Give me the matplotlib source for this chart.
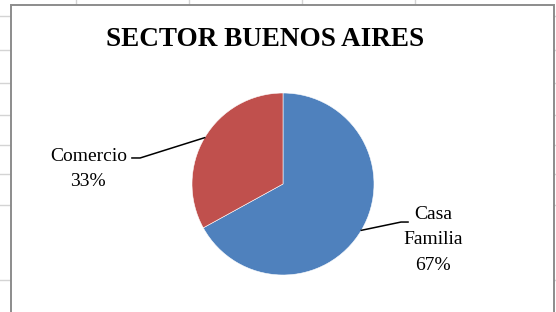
import numpy as np
import matplotlib.pyplot as plt
from matplotlib.lines import Line2D
from matplotlib.patches import Rectangle

labels = ['Casa\nFamilia', 'Comercio']
values = [67, 33]
colors = ['#4F81BD', '#C0504D']
title = 'SECTOR BUENOS AIRES'

W, H = 556, 312
fig = plt.figure(figsize=(W / 100, H / 100), dpi=100)
fig.patch.set_facecolor('white')


def fx(px):
    return px / W


def fy(py):
    return 1 - py / H


# spreadsheet grid around the chart
grid_c = '#d4d4d4'
for x in [76, 189, 302, 415]:
    fig.add_artist(Line2D([fx(x), fx(x)], [fy(0), fy(5)], color=grid_c, lw=1, zorder=-2))
for y in [16, 50, 83, 115, 145, 174, 205, 280]:
    fig.add_artist(Line2D([0, fx(10)], [fy(y), fy(y)], color=grid_c, lw=1, zorder=-2))
    fig.add_artist(Line2D([fx(554), 1], [fy(y), fy(y)], color=grid_c, lw=1, zorder=-2))

# chart area border
fig.add_artist(Rectangle((fx(10.5), -0.1), fx(554) - fx(10.5), fy(5) + 0.1,
                         facecolor='white', edgecolor='#8c8c8c', lw=1.4,
                         transform=fig.transFigure, zorder=-1))

fig.text(fx(265), fy(46), title, ha='center', va='baseline',
         fontsize=19.5, fontweight='bold', family='Liberation Serif')

r_px = 91
cx, cy = 283, 184
ax = fig.add_axes([fx(cx - r_px), fy(cy + r_px), (2 * r_px) / W, (2 * r_px) / H])
ax.patch.set_visible(False)
wedges, _ = ax.pie(values, colors=colors, startangle=90, counterclock=False,
                   radius=1, wedgeprops=dict(edgecolor='white', linewidth=0.4))
ax.set_xlim(-1, 1)
ax.set_ylim(-1, 1)
ax.set_aspect('equal')
ax.axis('off')

total = sum(values)
# label placement: (elbow point, line end, text center)
layout = [((1.297, -0.418), (1.374, -0.418), (1.65, -0.615)),
          ((-1.57, 0.286), (-1.66, 0.286), (-2.14, 0.165))]
for w, lab, val, (elbow, end, tpos) in zip(wedges, labels, values, layout):
    mid = np.deg2rad((w.theta1 + w.theta2) / 2)
    p0 = (np.cos(mid), np.sin(mid))
    ax.plot([p0[0], elbow[0], end[0]], [p0[1], elbow[1], end[1]],
            color='black', lw=1.1, clip_on=False)
    pct = f'{round(100 * val / total)}%'
    ax.text(tpos[0], tpos[1], f'{lab}\n{pct}', ha='center', va='center',
            multialignment='center', fontsize=14, family='Liberation Serif',
            linespacing=1.65, clip_on=False)

fig.savefig('out.png', dpi=100)
